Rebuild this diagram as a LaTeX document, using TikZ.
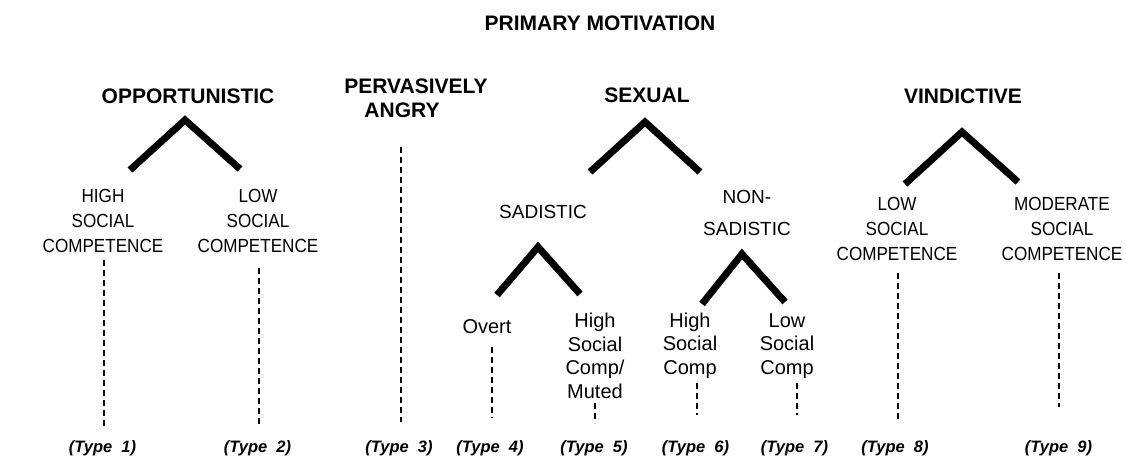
\documentclass[tikz,border=0pt]{standalone}
\usepackage{fontspec}
\setmainfont{Liberation Sans}
\newfontfamily\narrowsans[FakeStretch=0.9]{Liberation Sans}
\begin{document}
\begin{tikzpicture}[x=1pt,y=-1pt,
  title/.style={font=\fontsize{21}{24}\selectfont\bfseries, inner sep=0pt, anchor=base, align=center},
  caps/.style={font=\narrowsans\fontsize{19}{25}\selectfont, inner sep=0pt, anchor=base, align=center},
  capsw/.style={font=\fontsize{19}{25}\selectfont, inner sep=0pt, anchor=base, align=center},
  lower/.style={font=\fontsize{20}{23.5}\selectfont, inner sep=0pt, anchor=base, align=center},
  typ/.style={font=\fontsize{16.5}{18}\selectfont\bfseries\itshape, inner sep=0pt, anchor=base},
  chev/.style={line width=7pt, line join=miter},
  dline/.style={dash pattern=on 6pt off 4pt, line width=2pt},
  thinline/.style={dash pattern=on 6pt off 4pt, line width=1.2pt}]
\useasboundingbox[fill=white] (0,0) rectangle (1126,460);

% titles (multi-line nodes: base = baseline of last line)
\node[title] (pm) at (600,31) {PRIMARY MOTIVATION};
\node[title] (opp) at (188,103) {OPPORTUNISTIC};
\node[title] (ang) at (416,117) {PERVASIVELY\\\hbox{ANGRY\hspace{28pt}}};
\node[title] (sex) at (647,102) {SEXUAL};
\node[title] (vin) at (963,103) {VINDICTIVE};

% second level
\node[caps] (ohi) at (103,252) {HIGH\\SOCIAL\\COMPETENCE};
\node[caps] (olo) at (258,252) {LOW\\SOCIAL\\COMPETENCE};
\node[capsw] (sad) at (543,218) {SADISTIC};
\node[capsw] (nsad) at (747,235) {NON-\\[7pt]SADISTIC};
\node[caps] (vlo) at (897,260) {LOW\\SOCIAL\\COMPETENCE};
\node[caps] (vmo) at (1062,260) {MODERATE\\SOCIAL\\COMPETENCE};

% third level
\node[lower] (ov) at (487,333) {Overt};
\node[lower] (hm) at (595,398) {High\\Social\\Comp/\\Muted};
\node[lower] (nh) at (690,374) {High\\Social\\Comp};
\node[lower] (nl) at (787,374) {Low\\Social\\Comp};

% types
\node[typ] (t1) at (102.5,452) {(Type\ \ 1)};
\node[typ] (t2) at (257.5,452) {(Type\ \ 2)};
\node[typ] (t3) at (399,452) {(Type\ \ 3)};
\node[typ] (t4) at (490,452) {(Type\ \ 4)};
\node[typ] (t5) at (594,452) {(Type\ \ 5)};
\node[typ] (t6) at (695.5,452) {(Type\ \ 6)};
\node[typ] (t7) at (794.5,452) {(Type\ \ 7)};
\node[typ] (t8) at (895,452) {(Type\ \ 8)};
\node[typ] (t9) at (1058.5,452) {(Type\ \ 9)};

% chevrons
\coordinate (opA) at (185,120); \coordinate (opL) at (130,170); \coordinate (opR) at (240,169);
\coordinate (sxA) at (645,122); \coordinate (sxL) at (590,172); \coordinate (sxR) at (700,172);
\coordinate (sdA) at (538,247); \coordinate (sdL) at (497,295); \coordinate (sdR) at (580,294);
\coordinate (nsA) at (742,254); \coordinate (nsL) at (702,304); \coordinate (nsR) at (785,302);
\coordinate (viA) at (962,132); \coordinate (viL) at (905,184); \coordinate (viR) at (1018,182);
\draw[chev] (opL) -- (opA) -- (opR);
\draw[chev] (sxL) -- (sxA) -- (sxR);
\draw[chev] (sdL) -- (sdA) -- (sdR);
\draw[chev] (nsL) -- (nsA) -- (nsR);
\draw[chev] (viL) -- (viA) -- (viR);

% dashed leads
\coordinate (d1a) at (104,260); \coordinate (d1b) at (104,427);
\coordinate (d2a) at (259,268); \coordinate (d2b) at (259,427);
\coordinate (d3a) at (401,147); \coordinate (d3b) at (401,422);
\coordinate (d4a) at (492,347); \coordinate (d4b) at (492,418);
\coordinate (d5a) at (595,403); \coordinate (d5b) at (595,423);
\coordinate (d6a) at (697,383); \coordinate (d6b) at (697,415);
\coordinate (d7a) at (797,383); \coordinate (d7b) at (797,415);
\coordinate (d8a) at (898,273); \coordinate (d8b) at (898,422);
\coordinate (d9a) at (1059,273); \coordinate (d9b) at (1059,407);
\draw[dline] (d1a) -- (d1b);
\draw[dline] (d2a) -- (d2b);
\draw[dline] (d3a) -- (d3b);
\draw[dline] (d4a) -- (d4b);
\draw[thinline] (d5a) -- (d5b);
\draw[dline] (d6a) -- (d6b);
\draw[thinline] (d7a) -- (d7b);
\draw[dline] (d8a) -- (d8b);
\draw[dline] (d9a) -- (d9b);
\end{tikzpicture}
\end{document}
